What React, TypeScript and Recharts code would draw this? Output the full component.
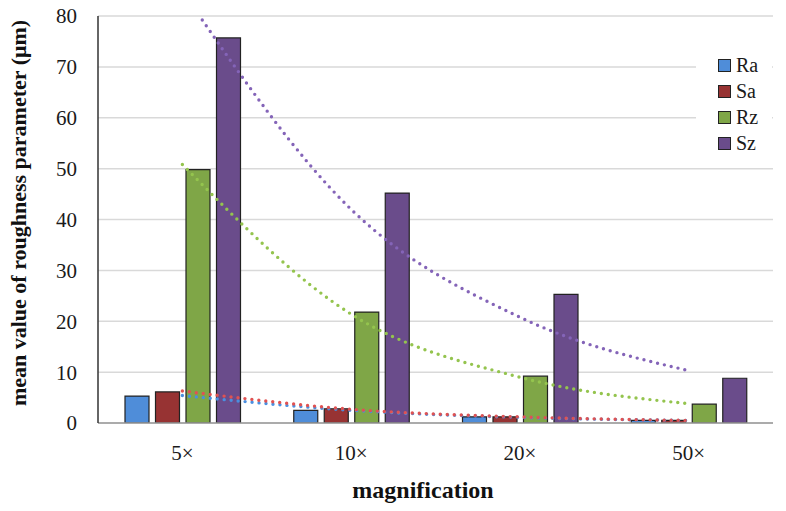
import { ComposedChart, Bar, Line, XAxis, YAxis, CartesianGrid, Legend, Label } from "recharts"

// magnification levels
const categories = ["5×", "10×", "20×", "50×"]

// mean roughness values (μm)
const ra = [5.3, 2.5, 1.2, 0.5]
const sa = [6.1, 2.8, 1.2, 0.5]
const rz = [49.8, 21.8, 9.2, 3.7]
const sz = [75.7, 45.2, 25.3, 8.8]

// dotted trend lines, read at each category centre
const raTrend = [5.4, 2.5, 1.1, 0.5]
const saTrend = [6.3, 2.7, 1.2, 0.5]
const rzTrend = [50.8, 21.4, 9.0, 3.8]
const szTrend = [84.9, 42.0, 20.8, 10.3]

const yTicks = [0, 10, 20, 30, 40, 50, 60, 70, 80]

const data = categories.map((name, i) => ({
  name,
  Ra: ra[i],
  Sa: sa[i],
  Rz: rz[i],
  Sz: sz[i],
  raT: raTrend[i],
  saT: saTrend[i],
  rzT: rzTrend[i],
  szT: szTrend[i],
}))

const series = [
  { key: "Ra", color: "#4f8dd9" },
  { key: "Sa", color: "#973333" },
  { key: "Rz", color: "#7fa647" },
  { key: "Sz", color: "#6a4c8b" },
]

const FONT = "'Liberation Serif', 'Times New Roman', serif"

const LegendBox = () => (
  <div style={{ background: "#fff", width: 76, height: 106, paddingTop: 6, boxSizing: "border-box", fontFamily: FONT }}>
    {series.map((s) => (
      <div key={s.key} style={{ display: "flex", alignItems: "center", height: 26, paddingLeft: 22 }}>
        <span style={{ width: 11, height: 11, background: s.color, border: "1px solid #222", marginRight: 5 }} />
        <span style={{ fontSize: 20, color: "#1a1a1a" }}>{s.key}</span>
      </div>
    ))}
  </div>
)

const dotted = { strokeWidth: 3.4, strokeDasharray: "0 7", strokeLinecap: "round" as const, dot: false, activeDot: false, isAnimationActive: false, type: "monotone" as const }

export default function App() {
  return (
    <div style={{ position: "absolute", left: 0, top: 0, width: 786, height: 511, background: "#fff" }}>
      <ComposedChart
        width={786}
        height={511}
        data={data}
        margin={{ top: 16, right: 13, left: 0, bottom: 0 }}
        barGap={6.5}
      >
        <CartesianGrid vertical={false} stroke="#d9d9d9" strokeWidth={1.5} />
        <XAxis
          dataKey="name"
          height={88}
          axisLine={{ stroke: "#999", strokeWidth: 1.5 }}
          tickLine={false}
          tickSize={0}
          tickMargin={22}
          tick={{ fontFamily: FONT, fontSize: 21, fill: "#1a1a1a" }}
        >
          <Label
            content={() => (
              <text x={423} y={498} textAnchor="middle" fontFamily={FONT} fontSize={24} fontWeight="bold" fill="#111">
                magnification
              </text>
            )}
          />
        </XAxis>
        <YAxis
          width={98}
          domain={[0, 80]}
          ticks={yTicks}
          allowDataOverflow
          axisLine={{ stroke: "#333", strokeWidth: 1.5 }}
          tickLine={false}
          tickSize={0}
          tickMargin={21}
          tick={{ fontFamily: FONT, fontSize: 21, fill: "#1a1a1a" }}
        >
          <Label
            content={() => (
              <text
                x={26}
                y={213}
                transform="rotate(-90 26 213)"
                textAnchor="middle"
                fontFamily={FONT}
                fontSize={22}
                fontWeight="bold"
                fill="#111"
              >
                mean value of roughness parameter (μm)
              </text>
            )}
          />
        </YAxis>
        {series.map((s) => (
          <Bar key={s.key} dataKey={s.key} fill={s.color} stroke="#222" strokeWidth={1.2} barSize={24} isAnimationActive={false} />
        ))}
        <Line dataKey="szT" stroke="#8464b8" {...dotted} />
        <Line dataKey="rzT" stroke="#94c44e" {...dotted} />
        <Line dataKey="raT" stroke="#4a8fe0" {...dotted} />
        <Line dataKey="saT" stroke="#e05252" {...dotted} />
        <Legend
          layout="horizontal"
          verticalAlign="middle"
          align="center"
          content={() => <LegendBox />}
          wrapperStyle={{ left: 696, top: 46, width: 76, height: 106 }}
        />
      </ComposedChart>
    </div>
  )
}
